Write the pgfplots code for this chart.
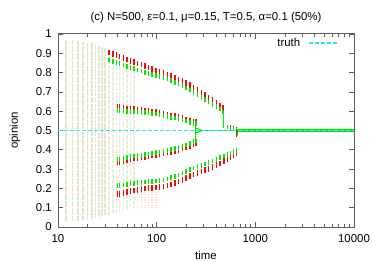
\documentclass[border=0pt]{standalone}
\usepackage{fontspec}
\setmainfont{Liberation Sans}
\usepackage{pgfplots}
\usepackage{pgfplotstable}
\pgfplotsset{compat=1.18}
\definecolor{bred}{RGB}{245,10,10}
\definecolor{bgreen}{RGB}{0,235,0}
\definecolor{axgray}{RGB}{95,95,95}
\definecolor{truthc}{RGB}{40,235,240}

% diffuse columns: t, middle, half-height
\pgfplotstableread{
t m h
12 0.500 0.470
14 0.500 0.470
16 0.500 0.465
18 0.500 0.460
20 0.498 0.457
22 0.498 0.453
24 0.498 0.448
26 0.495 0.445
28 0.495 0.440
30 0.495 0.435
}\diffA
\pgfplotstableread{
t m h
33 0.493 0.428
36 0.490 0.420
39 0.490 0.415
42 0.490 0.410
46 0.488 0.403
50 0.485 0.395
54 0.483 0.388
59 0.480 0.380
}\diffB
\pgfplotstableread{
t m h
64 0.14 0.04
70 0.14 0.04
76 0.14 0.04
83 0.14 0.04
90 0.14 0.04
98 0.14 0.04
}\diffC
% upper branch: t, red, green
\pgfplotstableread{
t r g
33 0.905 0.865
36 0.897 0.857
39 0.890 0.851
42 0.883 0.846
46 0.875 0.839
50 0.868 0.833
54 0.861 0.827
59 0.854 0.820
64 0.848 0.814
70 0.842 0.808
76 0.835 0.802
83 0.827 0.796
90 0.819 0.790
98 0.811 0.785
107 0.805 0.780
117 0.798 0.773
128 0.791 0.766
140 0.783 0.758
153 0.774 0.749
167 0.765 0.740
182 0.756 0.731
199 0.746 0.721
217 0.735 0.710
237 0.722 0.698
259 0.709 0.685
283 0.697 0.672
309 0.684 0.660
337 0.671 0.648
368 0.657 0.636
402 0.643 0.624
439 0.630 0.612
470 0.617 0.600
}\brUpper
\pgfplotstableread{
t r g
40 0.625 0.605
42 0.622 0.604
46 0.618 0.602
50 0.615 0.600
54 0.612 0.598
59 0.610 0.597
64 0.608 0.596
70 0.606 0.594
76 0.603 0.592
83 0.600 0.590
90 0.598 0.588
98 0.595 0.585
107 0.590 0.580
117 0.585 0.575
128 0.582 0.572
140 0.578 0.568
153 0.574 0.564
167 0.569 0.559
182 0.564 0.554
199 0.558 0.549
217 0.552 0.543
237 0.546 0.537
250 0.543 0.535
}\brMidUp
\pgfplotstableread{
t g r
40 0.350 0.335
42 0.352 0.337
46 0.355 0.340
50 0.360 0.345
54 0.364 0.350
59 0.367 0.354
64 0.370 0.357
70 0.373 0.360
76 0.376 0.363
83 0.379 0.367
90 0.382 0.370
98 0.385 0.373
107 0.389 0.377
117 0.393 0.381
128 0.397 0.385
140 0.402 0.390
153 0.407 0.395
167 0.413 0.400
182 0.419 0.406
199 0.425 0.413
217 0.433 0.421
237 0.442 0.430
250 0.446 0.434
}\brMidLow
\pgfplotstableread{
t g r
40 0.215 0.170
42 0.216 0.172
46 0.218 0.175
50 0.220 0.180
54 0.224 0.186
59 0.227 0.190
64 0.229 0.193
70 0.231 0.196
76 0.233 0.199
83 0.235 0.201
90 0.237 0.203
98 0.239 0.205
107 0.241 0.207
117 0.244 0.210
128 0.249 0.215
140 0.255 0.221
153 0.262 0.228
167 0.270 0.236
182 0.279 0.245
199 0.289 0.255
217 0.298 0.264
237 0.306 0.272
259 0.313 0.280
283 0.320 0.287
309 0.327 0.295
337 0.334 0.302
368 0.342 0.310
402 0.350 0.320
439 0.359 0.330
480 0.368 0.342
520 0.376 0.353
560 0.384 0.363
600 0.391 0.372
640 0.398 0.381
}\brLow
\pgfplotstableread{
t g r
480 0.520 0.527
520 0.515 0.521
560 0.511 0.516
600 0.508 0.512
640 0.505 0.508
}\brPost

\pgfplotsset{
  diffuse/.style 2 args={forget plot, draw=none, no markers,
    error bars/.cd, y dir=both, y explicit, error mark=none,
    error bar style={draw=#1, solid, line width=1.5bp, #2}},
  branch/.style n args={3}{forget plot, draw=none, no markers,
    error bars/.cd, y dir=both, y fixed=#2, error mark=none,
    error bar style={draw=#1, solid, line width=#3}},
}

\begin{document}
\begin{tikzpicture}[font=\fontsize{11.4bp}{13.7bp}\selectfont]
\path[use as bounding box] (0,0) rectangle (374bp,262bp);
\begin{axis}[
  at={(58bp,35bp)}, anchor=south west,
  scale only axis, width=296bp, height=193bp,
  xmode=log, xmin=10, xmax=10000, ymin=0, ymax=1,
  xtick={10,100,1000,10000}, xticklabels={10,100,1000,10000},
  minor xtick={20,30,40,50,60,70,80,90,200,300,400,500,600,700,800,900,2000,3000,4000,5000,6000,7000,8000,9000},
  ytick={0,0.1,0.2,0.3,0.4,0.5,0.6,0.7,0.8,0.9,1},
  yticklabels={0,0.1,0.2,0.3,0.4,0.5,0.6,0.7,0.8,0.9,1},
  tick align=inside, major tick length=5bp, minor tick length=3bp,
  axis line style={axgray, line width=1bp},
  every tick/.style={axgray, line width=0.7bp},
  yticklabel style={inner sep=0pt, xshift=-6bp},
  xticklabel style={inner sep=0pt, yshift=-7bp},
  title={(c) N=500, ε=0.1, μ=0.15, T=0.5, α=0.1 (50\%)},
  every axis title/.style={at={(0.5,1.0855)}, anchor=center},
  xlabel={time}, ylabel={opinion},
  every axis x label/.style={at={(0.5,-0.145)}, anchor=center},
  every axis y label/.style={at={(-0.1453,0.5)}, anchor=center, rotate=90},
  legend style={draw=none, fill=none, at={(0.9527,0.9534)}, anchor=east,
    inner sep=0pt, nodes={inner sep=0pt}, column sep=8bp},
  legend plot pos=right, legend cell align=right,
  legend image code/.code={\draw[#1] (0bp,0bp) -- (30bp,0bp);},
]
% diffuse early cloud
\addplot[diffuse={bred!18}{dash pattern=on 0.9bp off 1.4bp}] table[x=t, y=m, y error=h] {\diffA};
\addplot[diffuse={bgreen!24}{dash pattern=on 0.9bp off 1.4bp, dash phase=1.15bp}] table[x=t, y=m, y error=h] {\diffA};
\addplot[diffuse={bred!13}{dash pattern=on 0.9bp off 1.6bp}] table[x=t, y=m, y error=h] {\diffB};
\addplot[diffuse={bgreen!16}{dash pattern=on 0.9bp off 1.6bp, dash phase=1.25bp}] table[x=t, y=m, y error=h] {\diffB};
\addplot[diffuse={bred!15}{dash pattern=on 0.9bp off 1.6bp}] table[x=t, y=m, y error=h] {\diffC};
% branches, red
\addplot[branch={bred}{0.0145}{1.4bp}] table[x=t, y=r] {\brUpper};
\addplot[branch={bred}{0.0145}{1.4bp}] table[x=t, y=r] {\brMidUp};
\addplot[branch={bred}{0.0145}{1.4bp}] table[x=t, y=r] {\brMidLow};
\addplot[branch={bred}{0.0145}{1.4bp}] table[x=t, y=r] {\brLow};
\addplot[branch={bred}{0.01}{1.2bp}] table[x=t, y=r] {\brPost};
% branches, green
\addplot[branch={bgreen}{0.012}{1.4bp}] table[x=t, y=g] {\brUpper};
\addplot[branch={bgreen}{0.012}{1.4bp}] table[x=t, y=g] {\brMidUp};
\addplot[branch={bgreen}{0.012}{1.4bp}] table[x=t, y=g] {\brMidLow};
\addplot[branch={bgreen}{0.012}{1.4bp}] table[x=t, y=g] {\brLow};
\addplot[branch={bgreen}{0.009}{1.2bp}] table[x=t, y=g] {\brPost};
% merges and jumps
\addplot[forget plot, bgreen, line width=0.9bp] coordinates {(250,0.543) (250,0.434)};
\addplot[forget plot, bgreen, line width=1bp] coordinates {(250,0.512) (290,0.5)};
\addplot[forget plot, bgreen, line width=1bp] coordinates {(250,0.488) (290,0.5)};
\addplot[forget plot, bgreen, line width=1bp] coordinates {(250,0.5) (650,0.5)};
\addplot[forget plot, bred, line width=0.9bp] coordinates {(473,0.617) (473,0.525)};
\addplot[forget plot, bgreen, line width=0.9bp] coordinates {(476,0.600) (476,0.518)};
\addplot[forget plot, bred, line width=0.9bp] coordinates {(648,0.505) (648,0.468)};
\addplot[forget plot, bgreen, line width=1bp] coordinates {(652,0.505) (652,0.47)};
\addplot[forget plot, bgreen, line width=2.6bp] coordinates {(650,0.5) (10000,0.5)};
% truth
\addplot[truthc, line width=1.6bp, dash pattern=on 4bp off 2bp] coordinates {(10,0.5) (10000,0.5)};
\addlegendentry{truth}
\end{axis}
\end{tikzpicture}
\end{document}
